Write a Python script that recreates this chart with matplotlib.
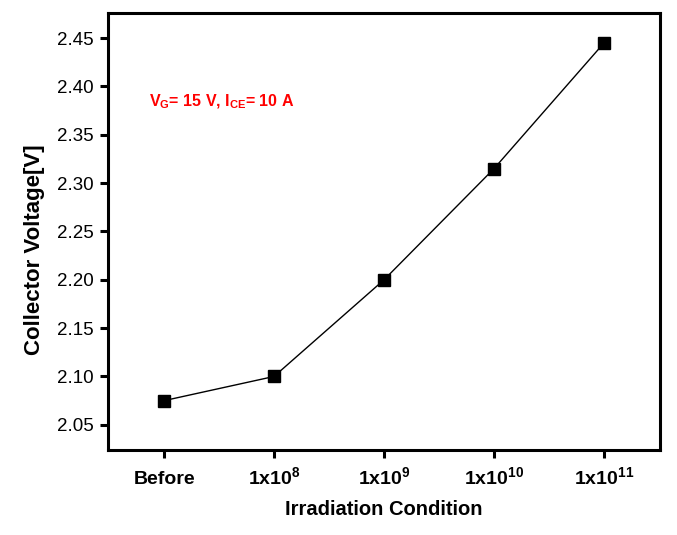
import matplotlib
matplotlib.use("Agg")
from matplotlib import pyplot as plt

conditions = ["Before", r"1x10$^{8}$", r"1x10$^{9}$", r"1x10$^{10}$", r"1x10$^{11}$"]
voltage = [2.075, 2.100, 2.200, 2.315, 2.445]
yticks = [2.05, 2.10, 2.15, 2.20, 2.25, 2.30, 2.35, 2.40, 2.45]

plt.rcParams["font.family"] = ["Liberation Sans", "DejaVu Sans"]
plt.rcParams["mathtext.fontset"] = "custom"
plt.rcParams["mathtext.rm"] = "Liberation Sans:bold"
plt.rcParams["mathtext.it"] = "Liberation Sans:bold"
plt.rcParams["mathtext.bf"] = "Liberation Sans:bold"

fig = plt.figure(figsize=(6.77, 5.35), dpi=100)
ax = fig.add_axes([0.1595, 0.159, 0.8155, 0.8167])

x = list(range(len(conditions)))
ax.plot(x, voltage, color="black", lw=1, marker="s", ms=8, mfc="black", mec="black")

ax.set_xlim(-0.51, 4.51)
ax.set_ylim(2.024, 2.476)
ax.set_xticks(x)
ax.set_xticklabels(conditions, fontsize=14, fontweight="bold")
for lab in ax.get_xticklabels():
    lab.set_verticalalignment("baseline")
ax.set_yticks(yticks)
ax.set_yticklabels(["%.2f" % v for v in yticks], fontsize=13.5)

for s in ax.spines.values():
    s.set_linewidth(2.2)
ax.tick_params(direction="out", length=6, width=2.2, pad=4)
ax.tick_params(axis="x", pad=18.5)

ax.set_xlabel("Irradiation Condition", fontsize=14.5, fontweight="bold")
ax.xaxis.set_label_coords(0.5, -0.115)
ax.set_ylabel("Collector Voltage[V]", fontsize=16, fontweight="bold")
ax.yaxis.set_label_coords(-0.114, 0.458)

ax.text(0.075, 0.797, r"V$_{G}$= 15 V, I$_{CE}$= 10 A",
        transform=ax.transAxes, color="red", fontsize=11.5, fontweight="bold",
        va="center")

fig.savefig("out.png", dpi=100)
